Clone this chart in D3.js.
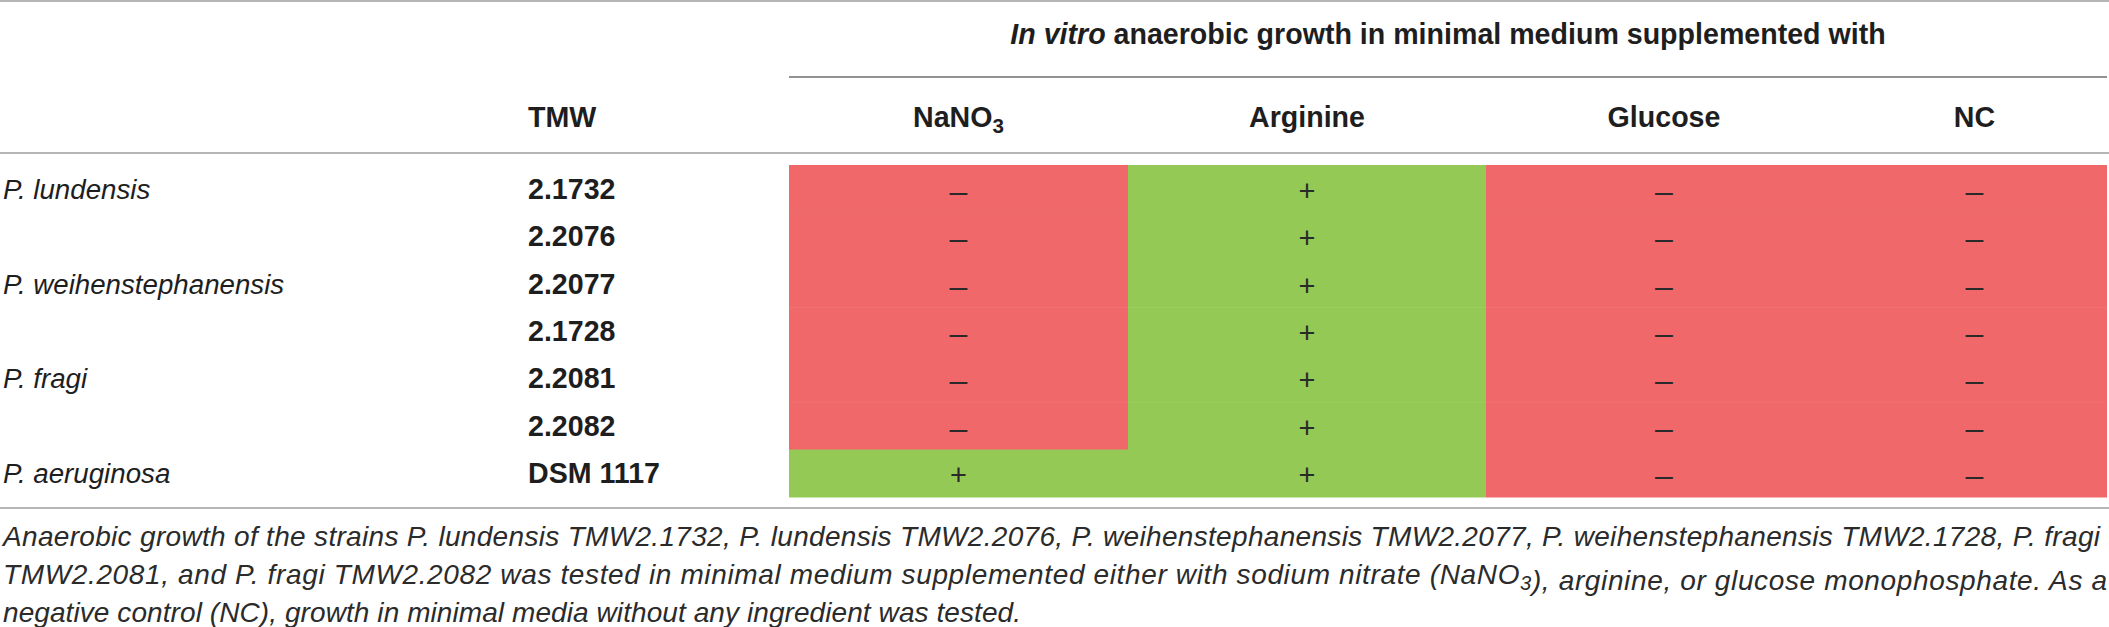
<!DOCTYPE html>
<html>
<head>
<meta charset="utf-8">
<script src="https://cdn.jsdelivr.net/npm/d3@7"></script>
<style>
    html, body { margin: 0; padding: 0; background: #fff; }
    svg { display: block; font-family: "Liberation Sans", Arial, sans-serif; }
</style>
</head>
<body>
<svg id="table" width="2109" height="627"></svg>
<script>
// ---- Dados
const species = ['P. lundensis', '', 'P. weihenstephanensis', '', 'P. fragi', '', 'P. aeruginosa'];
const strains = ['2.1732', '2.2076', '2.2077', '2.1728', '2.2081', '2.2082', 'DSM 1117'];
const media = ['NaNO3', 'Arginine', 'Glucose', 'NC'];

const nano3Growth    = ['-', '-', '-', '-', '-', '-', '+'];
const arginineGrowth = ['+', '+', '+', '+', '+', '+', '+'];
const glucoseGrowth  = ['-', '-', '-', '-', '-', '-', '-'];
const ncGrowth       = ['-', '-', '-', '-', '-', '-', '-'];

const groupTitle = ['In vitro', ' anaerobic growth in minimal medium supplemented with'];
const strainTitle = 'TMW';

const captionLines = [
    'Anaerobic growth of the strains P. lundensis TMW2.1732, P. lundensis TMW2.2076, P. weihenstephanensis TMW2.2077, P. weihenstephanensis TMW2.1728, P. fragi',
    'TMW2.2081, and P. fragi TMW2.2082 was tested in minimal medium supplemented either with sodium nitrate (NaNO_3), arginine, or glucose monophosphate. As a',
    'negative control (NC), growth in minimal media without any ingredient was tested.'
];

const growth = [nano3Growth, arginineGrowth, glucoseGrowth, ncGrowth];
const cells = [];
media.forEach((m, c) => strains.forEach((s, r) => cells.push({ medium: m, row: r, value: growth[c][r] })));

// ---- Layout
const svg = d3.select('#table');
const W = 2109;
const italicSize = 27.7;
const boldSize = 28.6;
const colEdges = [789, 1128, 1486, 1842, 2107];
const rowTop = 165, rowBottom = 497;

const colors = { '+': '#95c955', '-': '#f0686a' };
const symbols = { '+': '+', '-': '\u2013' };

// ---- Escalas
const mapY = d3.scaleBand().domain(d3.range(strains.length)).range([rowTop, rowBottom]);
const colLeft = d3.scaleOrdinal().domain(media).range(colEdges.slice(0, -1));
const colRight = d3.scaleOrdinal().domain(media).range(colEdges.slice(1));
const colMid = m => (colLeft(m) + colRight(m)) / 2;

// helper: writes text with "_x" as subscript
function richText(sel, str) {
    const parts = str.split(/_(\d)/);
    parts.forEach((p, i) => {
        if (i % 2 === 1) {
            sel.append('tspan').attr('dy', 6).attr('font-size', '0.72em').text(p);
            sel.append('tspan').attr('dy', -6).text('');
        } else if (p) {
            sel.append('tspan').text(p);
        }
    });
}

// ---- Regras
const rules = [
    { y: 1, x1: 0, x2: W, stroke: '#b5b5b5', w: 2 },
    { y: 77, x1: colEdges[0], x2: colEdges[4], stroke: '#6e6e6e', w: 1.5 },
    { y: 153, x1: 0, x2: W, stroke: '#b5b5b5', w: 2 },
    { y: 508, x1: 0, x2: W, stroke: '#b5b5b5', w: 2 }
];
svg.selectAll('line.rule')
    .data(rules)
    .join('line')
    .attr('class', 'rule')
    .attr('x1', d => d.x1).attr('x2', d => d.x2)
    .attr('y1', d => d.y).attr('y2', d => d.y)
    .attr('stroke', d => d.stroke)
    .attr('stroke-width', d => d.w);

// ---- Cabeçalho
const title = svg.append('text')
    .attr('x', (colEdges[0] + colEdges[4]) / 2)
    .attr('y', 44)
    .attr('text-anchor', 'middle')
    .attr('font-size', boldSize)
    .attr('font-weight', 'bold')
    .attr('fill', '#1e1e1e');
title.append('tspan').attr('font-style', 'italic').text(groupTitle[0]);
title.append('tspan').text(groupTitle[1]);

svg.append('text')
    .attr('x', 528)
    .attr('y', 127)
    .attr('font-size', boldSize)
    .attr('font-weight', 'bold')
    .attr('fill', '#1e1e1e')
    .text(strainTitle);

svg.selectAll('text.colhead')
    .data(media)
    .join('text')
    .attr('class', 'colhead')
    .attr('x', d => colMid(d))
    .attr('y', 127)
    .attr('text-anchor', 'middle')
    .attr('font-size', boldSize)
    .attr('font-weight', 'bold')
    .attr('fill', '#1e1e1e')
    .each(function (d) { richText(d3.select(this), d.replace(/(\d)$/, '_$1')); });

// ---- Células
svg.selectAll('rect.cell')
    .data(cells)
    .join('rect')
    .attr('class', 'cell')
    .attr('x', d => colLeft(d.medium))
    .attr('y', d => mapY(d.row))
    .attr('width', d => colRight(d.medium) - colLeft(d.medium))
    .attr('height', mapY.bandwidth() + 0.5)
    .attr('fill', d => colors[d.value]);

svg.selectAll('text.sym')
    .data(cells)
    .join('text')
    .attr('class', 'sym')
    .attr('x', d => colMid(d.medium))
    .attr('y', d => mapY(d.row) + mapY.bandwidth() / 2 + (d.value === '+' ? 12 : 13))
    .attr('text-anchor', 'middle')
    .attr('font-size', d => d.value === '+' ? 29 : 32)
    .attr('font-weight', 300)
    .attr('fill', '#2a2a2a')
    .text(d => symbols[d.value]);

// ---- Linhas
svg.selectAll('text.species')
    .data(species)
    .join('text')
    .attr('class', 'species')
    .attr('x', 3)
    .attr('y', (d, i) => mapY(i) + mapY.bandwidth() / 2 + 10)
    .attr('font-size', italicSize)
    .attr('font-style', 'italic')
    .attr('fill', '#1e1e1e')
    .text(d => d);

svg.selectAll('text.strain')
    .data(strains)
    .join('text')
    .attr('class', 'strain')
    .attr('x', 528)
    .attr('y', (d, i) => mapY(i) + mapY.bandwidth() / 2 + 10)
    .attr('font-size', boldSize)
    .attr('font-weight', 'bold')
    .attr('fill', '#1e1e1e')
    .text(d => d);

// ---- Legenda
const capWidths = [2097, 2104, 1018];
svg.selectAll('text.caption')
    .data(captionLines)
    .join('text')
    .attr('class', 'caption')
    .attr('x', 3)
    .attr('y', (d, i) => 546 + i * 38)
    .attr('font-size', 28)
    .attr('font-style', 'italic')
    .attr('fill', '#2b2b2b')
    .each(function (d, i) {
        const t = d3.select(this);
        richText(t, d);
        t.attr('textLength', capWidths[i]).attr('lengthAdjust', 'spacing');
    });
</script>
</body>
</html>
